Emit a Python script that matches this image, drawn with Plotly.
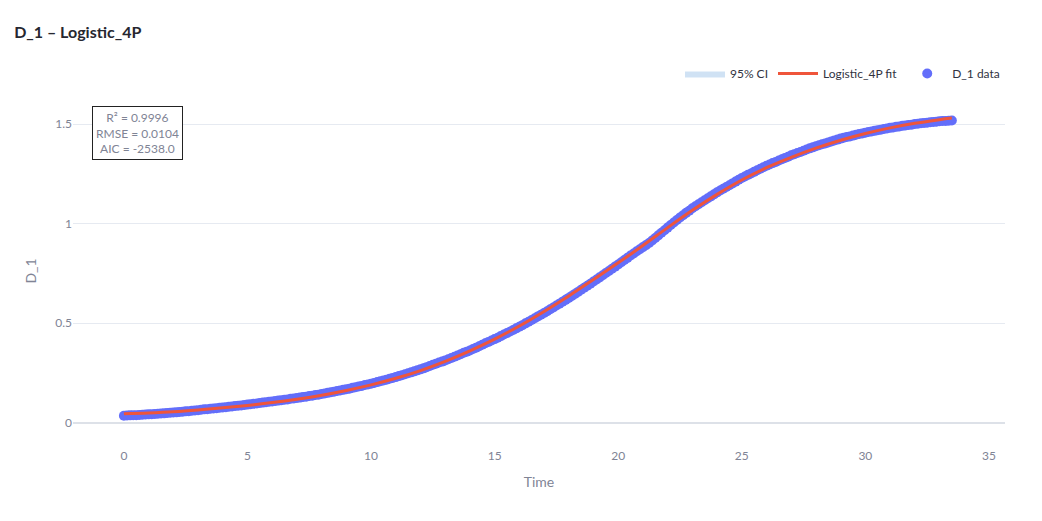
import plotly.graph_objects as go

# observed series D_1, one reading every 0.125 time units (one row per unit)
time = [i * 0.125 for i in range(269)]
d1_obs = [
    0.035, 0.036, 0.037, 0.038, 0.038, 0.039, 0.040, 0.041,
    0.042, 0.043, 0.044, 0.045, 0.046, 0.047, 0.049, 0.050,
    0.051, 0.052, 0.054, 0.055, 0.057, 0.058, 0.060, 0.061,
    0.063, 0.065, 0.067, 0.068, 0.070, 0.071, 0.073, 0.075,
    0.077, 0.078, 0.080, 0.082, 0.084, 0.085, 0.087, 0.089,
    0.091, 0.093, 0.095, 0.097, 0.099, 0.101, 0.103, 0.105,
    0.107, 0.109, 0.111, 0.113, 0.115, 0.117, 0.120, 0.122,
    0.124, 0.126, 0.129, 0.131, 0.134, 0.136, 0.139, 0.141,
    0.144, 0.147, 0.150, 0.153, 0.156, 0.159, 0.162, 0.165,
    0.168, 0.171, 0.175, 0.178, 0.182, 0.185, 0.189, 0.192,
    0.196, 0.200, 0.204, 0.208, 0.212, 0.216, 0.221, 0.225,
    0.229, 0.234, 0.239, 0.243, 0.248, 0.253, 0.258, 0.263,
    0.268, 0.273, 0.279, 0.285, 0.291, 0.296, 0.302, 0.307,
    0.313, 0.319, 0.325, 0.331, 0.338, 0.344, 0.351, 0.357,
    0.363, 0.370, 0.377, 0.384, 0.392, 0.399, 0.406, 0.413,
    0.420, 0.427, 0.435, 0.443, 0.451, 0.458, 0.466, 0.474,
    0.482, 0.490, 0.499, 0.507, 0.516, 0.525, 0.534, 0.542,
    0.551, 0.560, 0.570, 0.579, 0.589, 0.598, 0.608, 0.617,
    0.627, 0.637, 0.647, 0.657, 0.668, 0.678, 0.688, 0.698,
    0.709, 0.719, 0.730, 0.741, 0.752, 0.762, 0.773, 0.784,
    0.795, 0.806, 0.817, 0.828, 0.840, 0.850, 0.861, 0.871,
    0.882, 0.892, 0.903, 0.915, 0.928, 0.941, 0.954, 0.967,
    0.980, 0.993, 1.006, 1.018, 1.031, 1.042, 1.054, 1.065,
    1.077, 1.087, 1.097, 1.107, 1.117, 1.127, 1.137, 1.147,
    1.157, 1.166, 1.175, 1.184, 1.193, 1.202, 1.211, 1.220,
    1.229, 1.237, 1.245, 1.252, 1.260, 1.268, 1.276, 1.283,
    1.291, 1.297, 1.304, 1.310, 1.317, 1.323, 1.330, 1.336,
    1.343, 1.349, 1.355, 1.360, 1.366, 1.372, 1.378, 1.383,
    1.389, 1.394, 1.399, 1.403, 1.408, 1.413, 1.418, 1.422,
    1.427, 1.431, 1.435, 1.438, 1.442, 1.446, 1.450, 1.453,
    1.457, 1.460, 1.463, 1.466, 1.469, 1.472, 1.475, 1.478,
    1.481, 1.483, 1.486, 1.488, 1.491, 1.493, 1.495, 1.497,
    1.500, 1.502, 1.504, 1.505, 1.507, 1.509, 1.511, 1.512,
    1.514, 1.515, 1.516, 1.517, 1.518,
]

# fitted Logistic_4P curve and its 95% CI
fit_time = [0, 1, 2, 3, 4, 5, 6, 7, 8, 9, 10, 11, 12, 13, 14, 15, 16, 17,
            18, 19, 20, 21, 22, 23, 24, 25, 26, 27, 28, 29, 30, 31, 32, 33, 33.5]
fit_val = [0.045, 0.049, 0.055, 0.064, 0.075, 0.087, 0.101, 0.118, 0.138,
           0.162, 0.190, 0.223, 0.262, 0.308, 0.361, 0.420, 0.486, 0.559,
           0.637, 0.719, 0.803, 0.890, 0.980, 1.067, 1.147, 1.219, 1.281,
           1.333, 1.379, 1.419, 1.453, 1.481, 1.504, 1.522, 1.530]
ci_lower = [0.042, 0.046, 0.052, 0.061, 0.072, 0.084, 0.098, 0.115, 0.135,
            0.159, 0.187, 0.220, 0.259, 0.305, 0.358, 0.417, 0.483, 0.556,
            0.634, 0.716, 0.800, 0.887, 0.977, 1.064, 1.144, 1.216, 1.278,
            1.330, 1.376, 1.416, 1.450, 1.478, 1.500, 1.517, 1.524]
ci_upper = [0.048, 0.052, 0.058, 0.067, 0.078, 0.090, 0.104, 0.121, 0.141,
            0.165, 0.193, 0.226, 0.265, 0.311, 0.364, 0.423, 0.489, 0.562,
            0.640, 0.722, 0.806, 0.893, 0.983, 1.070, 1.150, 1.222, 1.284,
            1.336, 1.382, 1.422, 1.456, 1.484, 1.508, 1.527, 1.536]

stats_text = "R² = 0.9996<br>RMSE = 0.0104<br>AIC = -2538.0"

font_family = "Source Sans Pro, Lato, Noto Sans, sans-serif"
muted = "#808495"
grid = "#e6eaf1"

fig = go.Figure()

fig.add_trace(go.Scatter(
    x=fit_time, y=ci_lower, mode="lines", line=dict(width=0),
    showlegend=False, hoverinfo="skip",
))
fig.add_trace(go.Scatter(
    x=fit_time, y=ci_upper, mode="lines", line=dict(width=0),
    fill="tonexty", fillcolor="rgba(100,160,220,0.3)",
    name="95% CI", legendrank=1,
))
fig.add_trace(go.Scatter(
    x=time, y=d1_obs, mode="markers",
    marker=dict(color="#636efa", size=10),
    name="D_1 data", legendrank=3,
))
fig.add_trace(go.Scatter(
    x=fit_time, y=fit_val, mode="lines", line_shape="spline",
    line=dict(color="#ef553b", width=3),
    name="Logistic_4P fit", legendrank=2,
))

fig.add_annotation(
    text=stats_text, xref="paper", yref="paper", x=0.02, y=0.969,
    xanchor="left", yanchor="top", showarrow=False, align="center",
    font=dict(size=12, color=muted, family=font_family),
    bordercolor="#222222", borderwidth=1, borderpad=3, bgcolor="white",
)

# the page body adds an 8px margin, so the figure is sized to the visible area
fig.update_layout(
    width=1026, height=505,
    template="plotly_white",
    font=dict(family=font_family, size=12, color=muted),
    title=dict(text="<b>D_1 – Logistic_4P</b>", x=0.006, xanchor="left",
               y=0.952, yanchor="middle", font=dict(size=16, color="#262730")),
    margin=dict(l=65, r=29, t=87, b=66),
    legend=dict(orientation="h", x=1, xanchor="right", y=1.02, yanchor="bottom",
                traceorder="normal", itemwidth=40,
                font=dict(size=12, color="#31333f")),
    plot_bgcolor="white", paper_bgcolor="white",
)
fig.update_xaxes(
    title=dict(text="Time", font=dict(size=14, color=muted)),
    range=[-2.06, 35.65], dtick=5, showgrid=False, zeroline=False,
    showline=False, ticks="", tickfont=dict(color=muted),
)
fig.update_yaxes(
    title=dict(text="D_1", font=dict(size=14, color=muted)),
    range=[-0.122, 1.646], tickvals=[0, 0.5, 1, 1.5], ticktext=["0", "0.5", "1", "1.5"],
    gridcolor=grid, zeroline=True, zerolinecolor="#dde1e8", zerolinewidth=2,
    tickfont=dict(color=muted),
)

fig.write_html("out.html")
